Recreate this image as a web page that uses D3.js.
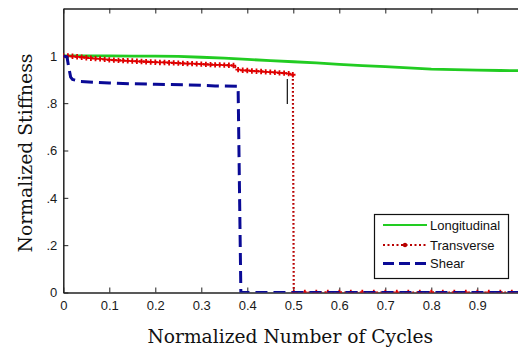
<!DOCTYPE html>
<html><head><meta charset="utf-8">
<script src="https://cdn.jsdelivr.net/npm/d3@7"></script>
<style>body{margin:0;background:#fff;} svg{display:block;}</style>
</head><body>
<svg id="c" width="518" height="349"></svg>
<script>
// ---- data ----
const xTicks = [0, 0.1, 0.2, 0.3, 0.4, 0.5, 0.6, 0.7, 0.8, 0.9, 1];
const xTickLabels = ["0", "0.1", "0.2", "0.3", "0.4", "0.5", "0.6", "0.7", "0.8", "0.9", ""];
const yTicks = [0, 0.2, 0.4, 0.6, 0.8, 1];
const yTickLabels = ["0", ".2", ".4", ".6", ".8", "1"];
const seriesNames = ["Longitudinal", "Transverse", "Shear"];

const longX = [0, 0.05, 0.1, 0.15, 0.2, 0.25, 0.3, 0.35, 0.4, 0.45, 0.5, 0.55, 0.6, 0.65, 0.7, 0.75, 0.8, 0.85, 0.9, 0.95, 1.0];
const longY = [1.0, 1.0, 1.0, 0.999, 0.999, 0.998, 0.994, 0.99, 0.985, 0.98, 0.975, 0.97, 0.964, 0.959, 0.954, 0.949, 0.944, 0.942, 0.94, 0.938, 0.937];

const transX = [0, 0.01, 0.02, 0.03, 0.04, 0.05, 0.06, 0.07, 0.08, 0.09, 0.1, 0.11, 0.12, 0.13, 0.14, 0.15, 0.16, 0.17, 0.18, 0.19, 0.2,
  0.21, 0.22, 0.23, 0.24, 0.25, 0.26, 0.27, 0.28, 0.29, 0.3, 0.31, 0.32, 0.33, 0.34, 0.35, 0.36, 0.37,
  0.38, 0.39, 0.4, 0.41, 0.42, 0.43, 0.44, 0.45, 0.46, 0.47, 0.48, 0.49, 0.499,
  0.501, 0.525, 0.55, 0.575, 0.6, 0.625, 0.65, 0.675, 0.7, 0.725, 0.75, 0.775, 0.8, 0.825, 0.85, 0.875, 0.9, 0.925, 0.95, 0.975, 1.0];
const transY = [1.0, 1.0, 0.998, 0.996, 0.994, 0.992, 0.99, 0.988, 0.987, 0.985, 0.983, 0.982, 0.981, 0.98, 0.979, 0.978, 0.977, 0.976, 0.975, 0.974, 0.973,
  0.972, 0.972, 0.971, 0.97, 0.969, 0.968, 0.967, 0.967, 0.966, 0.965, 0.964, 0.963, 0.962, 0.962, 0.961, 0.96, 0.959,
  0.942, 0.939, 0.938, 0.936, 0.935, 0.934, 0.932, 0.931, 0.93, 0.928, 0.927, 0.925, 0.92,
  0, 0, 0, 0, 0, 0, 0, 0, 0, 0, 0, 0, 0, 0, 0, 0, 0, 0, 0, 0, 0];

const shearX = [0, 0.008, 0.012, 0.016, 0.02, 0.036, 0.1, 0.145, 0.2, 0.275, 0.33, 0.38, 0.386, 0.5, 1.0];
const shearY = [1.0, 0.995, 0.95, 0.91, 0.9, 0.892, 0.885, 0.882, 0.88, 0.877, 0.873, 0.871, 0, 0, 0];

// small vertical black mark seen near the transverse drop
const markX = [0.487, 0.487];
const markY = [0.902, 0.796];

// ---- drawing ----
const svg = d3.select("#c");
const x = d3.scaleLinear().domain([0, 1]).range([63.3, 523.3]);
const y = d3.scaleLinear().domain([0, 1.2]).range([292.5, 8.5]);

svg.append("defs").append("clipPath").attr("id", "clip")
  .append("rect").attr("x", x(0)).attr("y", y(1.2)).attr("width", x(1) - x(0)).attr("height", y(0) - y(1.2));

const axisColor = "#222";
function styleAxis(g) {
  g.select(".domain").attr("stroke", axisColor).attr("stroke-width", 1.5);
  g.selectAll(".tick line").attr("stroke", axisColor).attr("stroke-width", 1);
  g.selectAll(".tick text").attr("fill", "#1a1a1a").style("font-family", "'Liberation Sans', Arial, sans-serif").style("font-size", "13px");
}

svg.append("g").attr("transform", `translate(0,${y(0)})`)
  .call(d3.axisBottom(x).tickValues(xTicks).tickFormat((d, i) => xTickLabels[i]).tickSizeInner(-5).tickSizeOuter(0).tickPadding(8))
  .call(styleAxis);
svg.append("g").attr("transform", `translate(0,${y(1.2)})`)
  .call(d3.axisTop(x).tickValues(xTicks).tickFormat("").tickSizeInner(-5).tickSizeOuter(0))
  .call(styleAxis);
svg.append("g").attr("transform", `translate(${x(0)},0)`)
  .call(d3.axisLeft(y).tickValues(yTicks).tickFormat((d, i) => yTickLabels[i]).tickSizeInner(-5).tickSizeOuter(0).tickPadding(6))
  .call(styleAxis);
svg.append("g").attr("transform", `translate(${x(1)},0)`)
  .call(d3.axisRight(y).tickValues(yTicks).tickFormat("").tickSizeInner(-5).tickSizeOuter(0))
  .call(styleAxis);

const plot = svg.append("g").attr("clip-path", "url(#clip)");
const line = d3.line().x(d => x(d[0])).y(d => y(d[1]));

const longData = longX.map((v, i) => [v, longY[i]]);
const transData = transX.map((v, i) => [v, transY[i]]);
const shearData = shearX.map((v, i) => [v, shearY[i]]);
const markData = markX.map((v, i) => [v, markY[i]]);

const cLong = "#22cc22", cTransLine = "#b80000", cTransMark = "#e00000", cShear = "#0a0a96";

plot.append("path").datum(longData).attr("d", line)
  .attr("fill", "none").attr("stroke", cLong).attr("stroke-width", 2.8);

plot.append("path").datum(transData).attr("d", line)
  .attr("fill", "none").attr("stroke", cTransLine).attr("stroke-width", 2.2).attr("stroke-dasharray", "1.8,2.2");
plot.selectAll("path.tm").data(transData).enter().append("path").attr("class", "tm")
  .attr("transform", d => `translate(${x(d[0])},${y(d[1])})`)
  .attr("d", d3.symbol(d3.symbolCross, 16))
  .attr("fill", cTransMark);

plot.append("path").datum(shearData).attr("d", line)
  .attr("fill", "none").attr("stroke", cShear).attr("stroke-width", 3).attr("stroke-dasharray", "12,6");

plot.append("path").datum(markData).attr("d", line)
  .attr("fill", "none").attr("stroke", "#111").attr("stroke-width", 1.2);

// ---- legend ----
const leg = svg.append("g");
leg.append("rect").attr("x", 374.5).attr("y", 214.5).attr("width", 134).attr("height", 64)
  .attr("fill", "#fff").attr("stroke", "#111").attr("stroke-width", 1.2);
const legY = [225, 245, 263.5];
const legStyles = [
  {stroke: cLong, w: 2.2, dash: null, marker: false},
  {stroke: cTransLine, w: 2, dash: "2,2.5", marker: true},
  {stroke: cShear, w: 3, dash: "11,5", marker: false}
];
seriesNames.forEach((name, i) => {
  const s = legStyles[i];
  const ln = leg.append("line").attr("x1", 383).attr("x2", 427).attr("y1", legY[i]).attr("y2", legY[i])
    .attr("stroke", s.stroke).attr("stroke-width", s.w);
  if (s.dash) ln.attr("stroke-dasharray", s.dash);
  if (s.marker) leg.append("circle").attr("cx", 405).attr("cy", legY[i]).attr("r", 2.2).attr("fill", cTransLine);
  leg.append("text").attr("x", 430).attr("y", legY[i]).attr("dy", "0.36em")
    .style("font-family", "'Liberation Sans', Arial, sans-serif").style("font-size", "13px").attr("fill", "#111")
    .text(name);
});

// ---- axis titles ----
function fitText(t, target) {
  let fs = 20;
  t.style("font-size", fs + "px");
  const len = t.node().getComputedTextLength();
  t.style("font-size", (fs * target / len) + "px");
}
const xt = svg.append("text").attr("x", 290.3).attr("y", 343).attr("text-anchor", "middle")
  .style("font-family", "'DejaVu Serif', serif").attr("fill", "#111").text("Normalized Number of Cycles");
fitText(xt, 286);
const yt = svg.append("text").attr("transform", "translate(32,153) rotate(-90)").attr("text-anchor", "middle")
  .style("font-family", "'DejaVu Serif', serif").attr("fill", "#111").text("Normalized Stiffness");
fitText(yt, 199);
</script>
</body></html>
